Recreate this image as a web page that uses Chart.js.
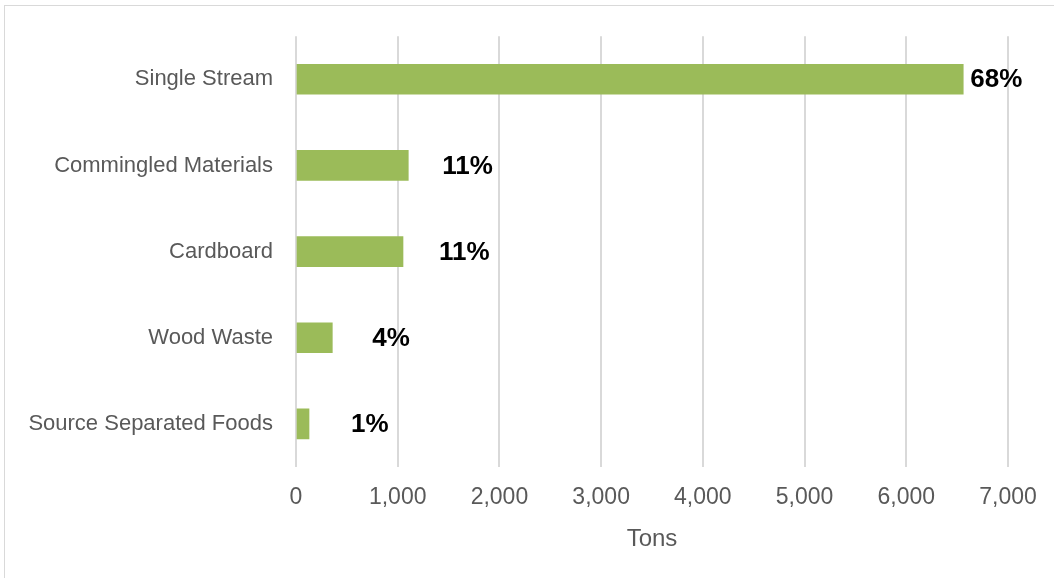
<!DOCTYPE html>
<html>
<head>
<meta charset="utf-8">
<script src="https://cdn.jsdelivr.net/npm/chart.js@4"></script>
<style>
  html, body { margin: 0; padding: 0; background: #fff; overflow: hidden; }
  #frame { position: absolute; left: 4px; top: 5px; width: 1070px; height: 600px; border: 1px solid #d9d9d9; }
  #wrap { position: absolute; left: 0; top: 0; width: 1054px; height: 578px; }
</style>
</head>
<body>
<div id="frame"></div>
<div id="wrap"><canvas id="chart"></canvas></div>
<script>
const categories = ["Single Stream", "Commingled Materials", "Cardboard", "Wood Waste", "Source Separated Foods"];
const tons = [6560, 1104, 1052, 357, 128];
const shares = ["68%", "11%", "11%", "4%", "1%"];
const xTicks = [0, 1000, 2000, 3000, 4000, 5000, 6000, 7000];

// label gap from bar end, in px (labels were hand-placed in the original)
const labelGap = [7, 34, 36, 40, 42];

const shareLabels = {
    id: "shareLabels",
    afterDatasetsDraw(chart) {
        const ctx = chart.ctx;
        const meta = chart.getDatasetMeta(0);
        ctx.save();
        ctx.font = "bold 26px 'Liberation Sans', Arial, sans-serif";
        ctx.fillStyle = "#000";
        ctx.textBaseline = "middle";
        ctx.textAlign = "left";
        meta.data.forEach((bar, i) => {
            ctx.fillText(shares[i], bar.x + labelGap[i], bar.y + 1);
        });
        ctx.restore();
    }
};

const ctx = document.getElementById("chart");
Chart.defaults.font.family = "'Liberation Sans', Arial, sans-serif";
Chart.defaults.color = "#595959";

new Chart(ctx, {
    type: "bar",
    data: {
        labels: categories,
        datasets: [{
            data: tons,
            backgroundColor: "#9bbb59",
            barThickness: 30
        }]
    },
    options: {
        indexAxis: "y",
        responsive: true,
        maintainAspectRatio: false,
        animation: false,
        layout: { padding: { top: 35, right: 46, left: 0, bottom: 0 } },
        scales: {
            x: {
                min: 0,
                max: 7000,
                afterBuildTicks: (scale) => { scale.ticks = xTicks.map(v => ({ value: v })); },
                afterFit: (scale) => { scale.height = 111; },
                grid: { color: "#d9d9d9", lineWidth: 2, drawTicks: false },
                border: { display: false },
                ticks: {
                    padding: 17,
                    font: { size: 23 },
                    callback: (v) => v.toLocaleString("en-US")
                },
                title: {
                    display: true,
                    text: "Tons",
                    font: { size: 24 },
                    padding: { top: 0, bottom: 24 }
                }
            },
            y: {
                afterFit: (scale) => { scale.width = 296; },
                grid: { display: false, drawTicks: false },
                border: { display: false },
                ticks: { padding: 23, font: { size: 22 } }
            }
        },
        plugins: {
            legend: { display: false },
            tooltip: { enabled: false }
        }
    },
    plugins: [shareLabels]
});
</script>
</body>
</html>
